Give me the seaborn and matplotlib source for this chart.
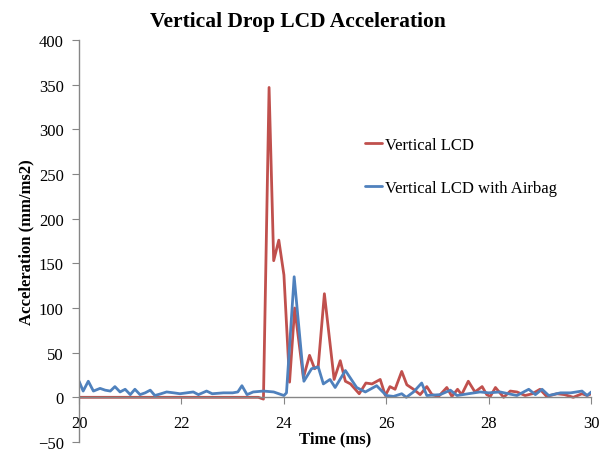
import matplotlib
matplotlib.use("Agg")
import matplotlib.pyplot as plt
import seaborn as sns
import pandas as pd

# red: no airbag
red_time = [20.0, 23.50, 23.60, 23.71, 23.80, 23.90, 24.00, 24.11, 24.21, 24.38,
            24.50, 24.60, 24.67, 24.79, 24.98, 25.10, 25.20, 25.30, 25.47, 25.60,
            25.72, 25.88, 25.98, 26.07, 26.17, 26.30, 26.40, 26.53, 26.66, 26.79,
            26.89, 27.02, 27.18, 27.28, 27.39, 27.47, 27.60, 27.73, 27.87, 27.96,
            28.03, 28.13, 28.29, 28.42, 28.55, 28.71, 28.85, 29.00, 29.13, 29.33,
            29.48, 29.65, 29.82, 29.92, 30.0]
red_acc = [0, 0, -2, 347, 153, 176, 137, 17, 100, 22,
           47, 32, 35, 116, 20, 41, 18, 15, 4, 16,
           15, 20, 2, 12, 9, 29, 14, 9, 3, 12,
           3, 1, 11, 1, 9, 3, 18, 6, 12, 3,
           1, 11, 0, 7, 6, 2, 4, 9, 1, 4,
           3, 0, 4, 2, 4]

# blue: with airbag
blue_time = [20.0, 20.08, 20.18, 20.28, 20.41, 20.51, 20.61, 20.70, 20.80, 20.90,
             21.00, 21.09, 21.19, 21.29, 21.39, 21.48, 21.60, 21.71, 21.85, 21.97,
             22.10, 22.23, 22.33, 22.49, 22.60, 22.82, 23.00, 23.10, 23.18, 23.28,
             23.40, 23.60, 23.80, 24.00, 24.05, 24.20, 24.39, 24.54, 24.67, 24.77,
             24.90, 25.00, 25.20, 25.42, 25.59, 25.81, 26.00, 26.14, 26.30, 26.39,
             26.53, 26.69, 26.79, 27.05, 27.25, 27.38, 27.60, 27.83, 28.00, 28.22,
             28.55, 28.78, 28.91, 29.04, 29.17, 29.40, 29.60, 29.82, 29.92, 30.0]
blue_acc = [18, 7, 18, 7, 10, 8, 7, 12, 6, 9,
            3, 9, 3, 5, 8, 2, 4, 6, 5, 4,
            5, 6, 3, 7, 4, 5, 5, 6, 13, 3,
            6, 7, 6, 2, 5, 135, 18, 32, 34, 15,
            20, 11, 30, 11, 6, 13, 2, 1, 4, 0,
            6, 16, 2, 3, 8, 2, 4, 6, 5, 6,
            2, 9, 3, 9, 2, 5, 5, 7, 2, 6]

labels = ["Vertical LCD", "Vertical LCD with Airbag"]
colors = ["#C0504D", "#4F81BD"]

df = pd.concat([
    pd.DataFrame({"time": red_time, "acc": red_acc, "series": labels[0]}),
    pd.DataFrame({"time": blue_time, "acc": blue_acc, "series": labels[1]}),
])

sns.set_style("white")
plt.rcParams["font.family"] = ["Liberation Serif", "DejaVu Serif"]
plt.rcParams["text.color"] = "black"
plt.rcParams["axes.labelcolor"] = "black"

fig = plt.figure(figsize=(5.99, 4.52), dpi=100)
ax = fig.add_axes([0.132, 0.02, 0.855, 0.889])

sns.lineplot(data=df, x="time", y="acc", hue="series", palette=colors,
             estimator=None, sort=False, linewidth=2, ax=ax)

ax.set_xlim(20, 30)
ax.set_ylim(-50, 400)
ax.set_xticks(range(20, 31, 2))
ax.set_yticks(range(-50, 401, 50))

# excel style: horizontal axis crosses at zero
for s in ["top", "right"]:
    ax.spines[s].set_visible(False)
ax.spines["bottom"].set_position(("data", 0))
for s in ["left", "bottom"]:
    ax.spines[s].set_color("#868686")
    ax.spines[s].set_linewidth(1)
ax.tick_params(axis="both", direction="out", length=5, color="#868686",
               labelsize=12, labelcolor="black")
ax.tick_params(axis="x", pad=8)
ax.tick_params(axis="y", pad=6)
ax.xaxis.set_ticks_position("bottom")
ax.yaxis.set_ticks_position("left")

fig.text(0.497, 1 - 22 / 452, "Vertical Drop LCD Acceleration", fontsize=15.5,
         fontweight="bold", ha="center", va="center", color="black")
ax.set_xlabel("Time (ms)", fontsize=12, fontweight="bold")
ax.set_ylabel("Acceleration (mm/ms2)", fontsize=12, fontweight="bold")
ax.xaxis.set_label_coords(0.5, 0.03)
ax.yaxis.set_label_coords(-0.088, 0.5)

handles, _ = ax.get_legend_handles_labels()
leg = ax.legend(handles, labels, frameon=False, fontsize=12, loc="upper left",
                bbox_to_anchor=(0.543, 0.78), borderpad=0, handlelength=1.0,
                handletextpad=0.15, labelspacing=1.6)
for t in leg.get_texts():
    t.set_color("black")

fig.savefig("out.png", dpi=100)
